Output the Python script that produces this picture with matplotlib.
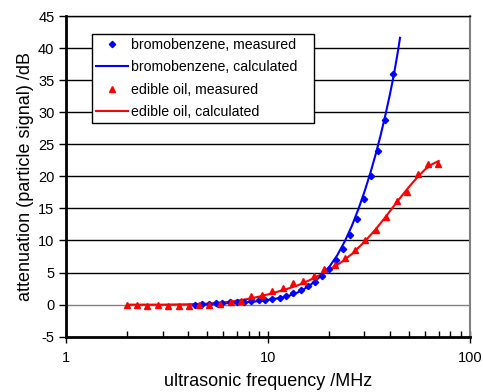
import matplotlib
matplotlib.use("Agg")
import matplotlib.pyplot as plt
from matplotlib.ticker import LogLocator, NullFormatter, FixedLocator, FixedFormatter

plt.rcParams['font.family'] = ['Liberation Sans', 'DejaVu Sans']
plt.rcParams['axes.unicode_minus'] = False

# bromobenzene, measured
bromo_f = [4.33, 4.68, 5.09, 5.51, 5.94, 6.46, 7.03, 7.60, 8.27, 8.96, 9.70,
           10.5, 11.4, 12.3, 13.35, 14.5, 15.7, 17.0, 18.4, 19.95, 21.7, 23.5,
           25.4, 27.6, 29.9, 32.4, 35.1, 38.1, 41.4]
bromo_db = [0.0, 0.1, 0.1, 0.2, 0.3, 0.4, 0.45, 0.45, 0.55, 0.65, 0.7,
            0.9, 1.1, 1.4, 1.8, 2.3, 2.9, 3.6, 4.5, 5.6, 6.9, 8.7,
            10.8, 13.3, 16.4, 20.0, 24.0, 28.8, 35.9]

# bromobenzene, calculated
bromo_calc_f = [4.3, 5.0, 6.0, 7.0, 8.0, 9.0, 10.0, 11.0, 12.0, 13.0, 14.0,
                15.0, 16.0, 17.0, 18.0, 19.0, 20.0, 22.0, 24.0, 26.0, 28.0,
                30.0, 32.0, 34.0, 36.0, 38.0, 40.0, 42.0, 44.0, 45.0]
bromo_calc_db = [0.0, 0.1, 0.2, 0.3, 0.4, 0.55, 0.75, 0.95, 1.2, 1.5, 1.9,
                 2.4, 2.95, 3.6, 4.3, 5.0, 5.8, 7.7, 9.9, 12.3, 14.9,
                 17.6, 20.4, 23.3, 26.3, 29.4, 32.6, 35.9, 39.6, 41.6]

# edible oil, measured
oil_f = [1.99, 2.24, 2.52, 2.84, 3.20, 3.60, 4.05, 4.55, 5.12, 5.78, 6.51,
         7.32, 8.24, 9.27, 10.47, 11.78, 13.25, 14.9, 16.8, 18.9, 21.4, 24.1,
         27.0, 30.3, 34.1, 38.4, 43.4, 48.6, 55.3, 62.2, 69.7]
oil_db = [-0.1, -0.1, -0.15, -0.05, -0.15, -0.2, -0.2, -0.1, 0.0, 0.15, 0.4,
          0.6, 1.3, 1.55, 2.2, 2.55, 3.3, 3.75, 4.5, 5.6, 6.2, 7.3,
          8.5, 10.1, 11.7, 13.6, 16.1, 17.5, 20.3, 21.9, 22.0]

# edible oil, calculated
oil_calc_f = [2.0, 3.0, 4.0, 5.0, 6.0, 7.0, 8.0, 9.0, 10.0, 12.0, 14.0, 16.0,
              18.0, 20.0, 23.0, 26.0, 30.0, 34.0, 38.0, 42.0, 46.0, 50.0,
              55.0, 60.0, 65.0, 70.0]
oil_calc_db = [0.0, 0.0, 0.05, 0.15, 0.35, 0.6, 0.9, 1.25, 1.6, 2.3, 3.0, 3.8,
               4.6, 5.4, 6.6, 7.9, 9.8, 11.7, 13.6, 15.4, 17.0, 18.4,
               19.9, 21.1, 21.9, 22.4]

y_ticks = list(range(-5, 50, 5))
x_ticks = [1, 10, 100]
x_tick_labels = ['1', '10', '100']

fig = plt.figure(figsize=(4.83, 3.92), dpi=100)
ax = fig.add_axes([66.3 / 483, 1 - 336.7 / 392, 403.7 / 483, 320.7 / 392])

for yv in y_ticks[2:]:
    ax.axhline(yv, color='black', lw=1.0, zorder=1)
ax.axhline(0, color='#808080', lw=1.0, zorder=1)

ax.plot(bromo_calc_f, bromo_calc_db, color='#0000ff', lw=1.5, zorder=3,
        label='bromobenzene, calculated')
ax.plot(bromo_f, bromo_db, 'D', color='#0000ff', ms=3.2, zorder=4,
        label='bromobenzene, measured')
ax.plot(oil_calc_f, oil_calc_db, color='#ff0000', lw=1.5, zorder=3,
        label='edible oil, calculated')
ax.plot(oil_f, oil_db, '^', color='#ff0000', ms=4, zorder=4,
        label='edible oil, measured')

ax.set_xscale('log')
ax.set_xlim(1, 100)
ax.set_ylim(-5, 45)
ax.yaxis.set_major_locator(FixedLocator(y_ticks))
ax.xaxis.set_major_locator(FixedLocator(x_ticks))
ax.xaxis.set_major_formatter(FixedFormatter(x_tick_labels))
ax.xaxis.set_minor_locator(LogLocator(base=10, subs=range(2, 10)))
ax.xaxis.set_minor_formatter(NullFormatter())

ax.tick_params(axis='y', direction='out', length=5, width=1, labelsize=10.5, colors='black')
ax.tick_params(axis='x', which='major', direction='inout', length=8, width=1,
               labelsize=10.5, pad=6)
ax.tick_params(axis='x', which='minor', direction='in', length=4, width=1)

ax.spines['left'].set_linewidth(2)
ax.spines['bottom'].set_linewidth(2)
ax.spines['top'].set_linewidth(1)
ax.spines['right'].set_color('#808080')
ax.spines['right'].set_linewidth(1.5)

ax.set_xlabel('ultrasonic frequency /MHz', fontsize=13, labelpad=6)
ax.set_ylabel('attenuation (particle signal) /dB', fontsize=13, labelpad=3)

handles, labels = ax.get_legend_handles_labels()
order = [1, 0, 3, 2]
leg = ax.legend([handles[i] for i in order], [labels[i] for i in order],
                loc='upper left', bbox_to_anchor=(0.064, 0.67, 0.55, 0.274),
                mode='expand', fontsize=10.2,
                frameon=True, fancybox=False, edgecolor='black', framealpha=1,
                borderpad=0.3, labelspacing=0.58, handlelength=2.2,
                handletextpad=0.25, borderaxespad=0)
leg.get_frame().set_linewidth(1)
leg.set_zorder(5)

fig.savefig('out.png', dpi=100)
